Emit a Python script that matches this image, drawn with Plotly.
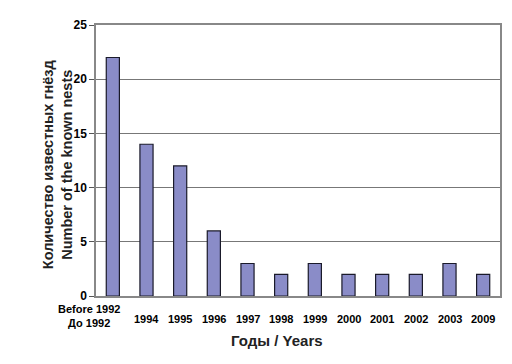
import plotly.graph_objects as go

categories = ["Before 1992<br>До 1992", "1994", "1995", "1996", "1997", "1998",
              "1999", "2000", "2001", "2002", "2003", "2009"]
nests = [22, 14, 12, 6, 3, 2, 3, 2, 2, 2, 3, 2]
y_ticks = [0, 5, 10, 15, 20, 25]

FONT = "Liberation Sans, Arial, sans-serif"

# page body has an 8px margin, so the figure starts at (8, 8)
OFF = 8
W, H = 512 - OFF, 364 - OFF
L, R, T, B = 96 - OFF, 10, 25 - OFF, 68
plot_w = W - L - R
plot_h = H - T - B


def px_to_paper(px, py):
    return (px - OFF - L) / plot_w, 1 - (py - OFF - T) / plot_h


fig = go.Figure()
fig.add_trace(go.Bar(
    x=list(range(len(categories))), y=nests, width=0.39,
    marker=dict(color="#8a8cc8", line=dict(color="#1a1a2a", width=1.2)),
))

annotations = []
for i, lab in enumerate(categories):
    multi = "<br>" in lab
    annotations.append(dict(
        x=i, y=0, xref="x", yref="y", text="<b>" + lab + "</b>",
        showarrow=False, yanchor="middle", xanchor="center",
        yshift=-20 if multi else -23, xshift=-24 if multi else 0,
        font=dict(family=FONT, size=11, color="black"),
    ))
tx, ty = px_to_paper(278, 340)
annotations.append(dict(
    x=tx, y=ty, xref="paper", yref="paper", text="<b>Годы / Years</b>",
    showarrow=False, xanchor="center", yanchor="middle",
    font=dict(family=FONT, size=15, color="#222"),
))
yx, yy = px_to_paper(57, 165)
annotations.append(dict(
    x=yx, y=yy, xref="paper", yref="paper",
    text="<b>Количество известных гнёзд<br>Number of the known nests</b>",
    textangle=-90, showarrow=False, xanchor="center", yanchor="middle",
    font=dict(family=FONT, size=14.5, color="#222"),
))

fig.update_layout(
    width=W, height=H,
    margin=dict(l=L, r=R, t=T, b=B),
    paper_bgcolor="white", plot_bgcolor="white",
    showlegend=False,
    font=dict(family=FONT, color="black"),
    annotations=annotations,
    xaxis=dict(
        range=[-0.5, len(categories) - 0.5], showticklabels=False,
        showgrid=False, zeroline=False, ticks="",
        showline=True, linecolor="#888", linewidth=1.5, mirror=True,
    ),
    yaxis=dict(
        range=[0, 25], tickvals=y_ticks,
        ticktext=["<b>%d</b>" % v for v in y_ticks],
        tickfont=dict(family=FONT, size=12, color="black"),
        ticks="outside", ticklen=5, tickcolor="#555",
        showgrid=True, gridcolor="#777", gridwidth=1,
        zeroline=False, showline=True, linecolor="#888", linewidth=1.5, mirror=True,
    ),
)

fig.write_html("out.html")
